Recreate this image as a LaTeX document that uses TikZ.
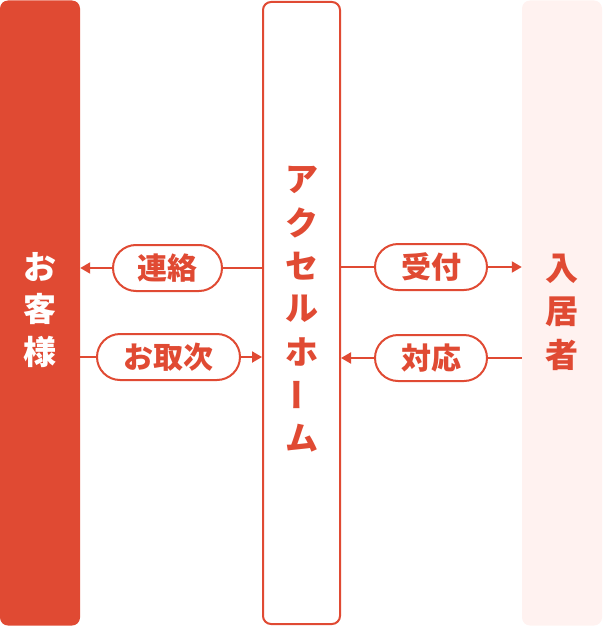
\documentclass[tikz,border=0pt]{standalone}
\usepackage{fontspec}
\newfontfamily\cjk{Noto Sans CJK JP}
\usetikzlibrary{arrows.meta}
\definecolor{redA}{HTML}{E04A33}
\definecolor{pinkA}{HTML}{FFF2F0}
\begin{document}
\begin{tikzpicture}[x=1pt,y=-1pt,
  bar/.style={minimum width=80pt, minimum height=625pt, inner sep=0pt, rounded corners=8pt},
  pill/.style={draw=redA, line width=2pt, rounded corners=23pt, fill=white, minimum height=46pt, inner sep=0pt, text=redA, font=\cjk\bfseries\fontsize{30}{30}\selectfont},
  conn/.style={draw=redA, line width=2pt},
  arr/.style={conn, -{Triangle[length=10pt,width=11pt]}},
  chw/.style={text=white, font=\cjk\bfseries\fontsize{33}{33}\selectfont, inner sep=0pt},
  chr/.style={text=redA, font=\cjk\bfseries\fontsize{33}{33}\selectfont, inner sep=0pt}]
\useasboundingbox (0,0) rectangle (603,626);
% bars
\node[bar, fill=redA] (L) at (40,313) {};
\node[bar, fill=pinkA, minimum width=80pt] (R) at (562,313) {};
\node[bar, draw=redA, line width=2pt, fill=white, minimum width=77pt, minimum height=622pt] (M) at (301.5,313) {};
% left text
\node[chw] (l1) at (40,267) {お};
\node[chw] (l2) at (40,309) {客};
\node[chw] (l3) at (40,352) {様};
% right text
\node[chr] (r1) at (562,269) {入};
\node[chr] (r2) at (562,312) {居};
\node[chr] (r3) at (562,355) {者};
% middle text
\node[chr] (m1) at (301.5,180) {ア};
\node[chr] (m2) at (301.5,223) {ク};
\node[chr] (m3) at (301.5,266) {セ};
\node[chr] (m4) at (301.5,309) {ル};
\node[chr] (m5) at (301.5,352) {ホ};
\node[chr, rotate=90] (m6) at (301.5,395) {ー};
\node[chr] (m7) at (301.5,438) {ム};
% pills
\node[pill, minimum width=109pt] (p1) at (167.5,268) {連絡};
\node[pill, minimum width=143pt] (p2) at (168.5,357) {お取次};
\node[pill, minimum width=112pt] (p3) at (431,267) {受付};
\node[pill, minimum width=112pt] (p4) at (431,358) {対応};
% connectors
\draw[conn] (M.west |- p1) -- (p1.east);
\draw[arr] (p1.west) -- (L.east |- p1);
\draw[conn] (L.east |- p2) -- (p2.west);
\draw[arr] (p2.east) -- (M.west |- p2);
\draw[conn] (M.east |- p3) -- (p3.west);
\draw[arr] (p3.east) -- (R.west |- p3);
\draw[conn] (R.west |- p4) -- (p4.east);
\draw[arr] (p4.west) -- (M.east |- p4);
\end{tikzpicture}
\end{document}
